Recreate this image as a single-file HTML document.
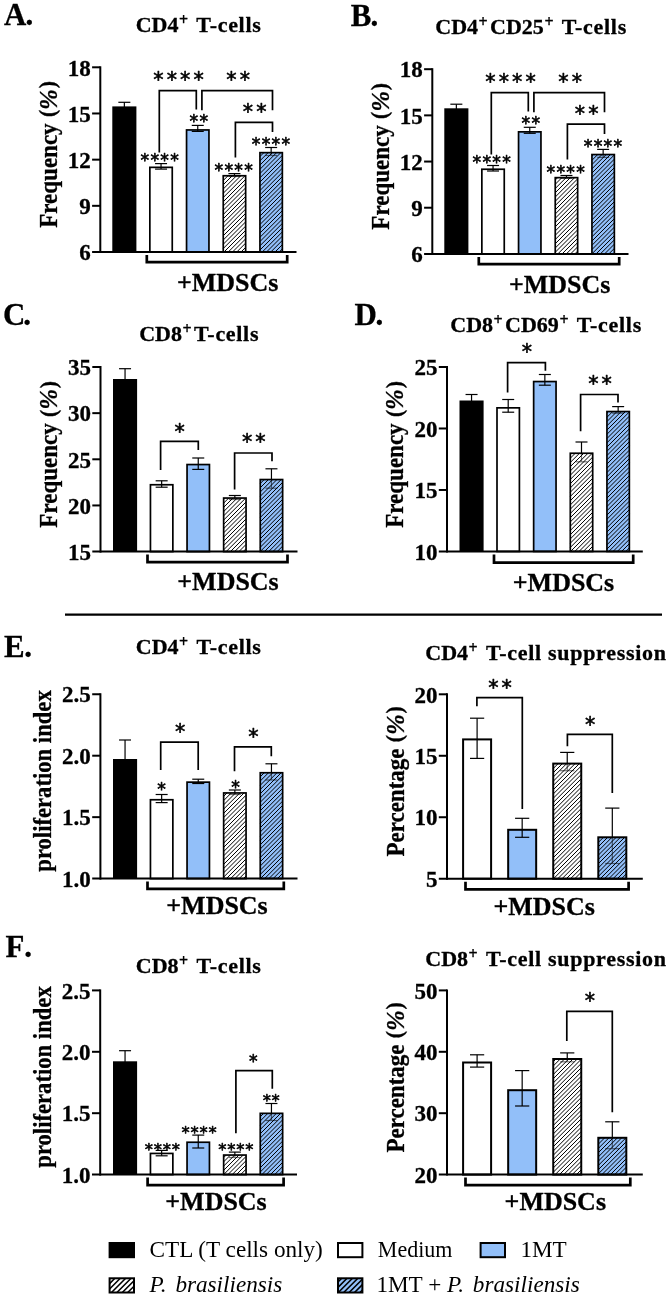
<!DOCTYPE html>
<html lang="en"><head><meta charset="utf-8"><title>Figure</title>
<style>html,body{margin:0;padding:0;background:#fff}svg{display:block;will-change:transform}</style></head><body>
<svg width="668" height="1298" viewBox="0 0 668 1298">
<rect width="668" height="1298" fill="#fff"/>
<g transform="translate(0,0)">
<rect x="112.3" y="106.4" width="24.1" height="145.6" fill="#000"/>
<line x1="124.35" y1="102.3" x2="124.35" y2="107.25" stroke="#000" stroke-width="1.2" stroke-linecap="butt"/>
<line x1="118.35" y1="102.3" x2="130.35" y2="102.3" stroke="#000" stroke-width="1.2" stroke-linecap="butt"/>
<rect x="149.85" y="167.35" width="22.4" height="84.65" fill="#fff" stroke="none"/>
<rect x="149.85" y="167.35" width="22.4" height="84.65" fill="none" stroke="#000" stroke-width="1.7"/>
<line x1="161.05" y1="163.6" x2="161.05" y2="167.35" stroke="#000" stroke-width="1.2" stroke-linecap="butt"/>
<line x1="155.05" y1="163.6" x2="167.05" y2="163.6" stroke="#000" stroke-width="1.2" stroke-linecap="butt"/>
<line x1="161.05" y1="167.35" x2="161.05" y2="169.1" stroke="#000" stroke-width="1.2" stroke-linecap="butt"/>
<line x1="155.05" y1="169.1" x2="167.05" y2="169.1" stroke="#000" stroke-width="1.2" stroke-linecap="butt"/>
<rect x="186.55" y="129.95" width="22.4" height="122.05" fill="#92bff9" stroke="none"/>
<rect x="186.55" y="129.95" width="22.4" height="122.05" fill="none" stroke="#000" stroke-width="1.7"/>
<line x1="197.75" y1="125.4" x2="197.75" y2="129.95" stroke="#000" stroke-width="1.2" stroke-linecap="butt"/>
<line x1="191.75" y1="125.4" x2="203.75" y2="125.4" stroke="#000" stroke-width="1.2" stroke-linecap="butt"/>
<line x1="197.75" y1="129.95" x2="197.75" y2="131.4" stroke="#000" stroke-width="1.2" stroke-linecap="butt"/>
<line x1="191.75" y1="131.4" x2="203.75" y2="131.4" stroke="#000" stroke-width="1.2" stroke-linecap="butt"/>
<rect x="223.25" y="175.75" width="22.4" height="76.25" fill="#fff" stroke="none"/>
<path d="M223.25,176.25L223.75,175.75M223.25,180.5L228,175.75M223.25,184.75L232.25,175.75M223.25,189L236.5,175.75M223.25,193.25L240.75,175.75M223.25,197.5L245,175.75M223.25,201.75L245.65,179.35M223.25,206L245.65,183.6M223.25,210.25L245.65,187.85M223.25,214.5L245.65,192.1M223.25,218.75L245.65,196.35M223.25,223L245.65,200.6M223.25,227.25L245.65,204.85M223.25,231.5L245.65,209.1M223.25,235.75L245.65,213.35M223.25,240L245.65,217.6M223.25,244.25L245.65,221.85M223.25,248.5L245.65,226.1M224,252L245.65,230.35M228.25,252L245.65,234.6M232.5,252L245.65,238.85M236.75,252L245.65,243.1M241,252L245.65,247.35M245.25,252L245.65,251.6" stroke="#000" stroke-width="1" fill="none"/>
<rect x="223.25" y="175.75" width="22.4" height="76.25" fill="none" stroke="#000" stroke-width="1.7"/>
<line x1="234.45" y1="173.6" x2="234.45" y2="175.75" stroke="#000" stroke-width="1.2" stroke-linecap="butt"/>
<line x1="228.45" y1="173.6" x2="240.45" y2="173.6" stroke="#000" stroke-width="1.2" stroke-linecap="butt"/>
<g opacity="0.55">
<line x1="234.45" y1="175.75" x2="234.45" y2="176.5" stroke="#000" stroke-width="1.2" stroke-linecap="butt"/>
<line x1="228.45" y1="176.5" x2="240.45" y2="176.5" stroke="#000" stroke-width="1.2" stroke-linecap="butt"/>
</g>
<rect x="259.95" y="152.65" width="22.4" height="99.35" fill="#92bff9" stroke="none"/>
<path d="M259.95,156.55L263.85,152.65M259.95,160.8L268.1,152.65M259.95,165.05L272.35,152.65M259.95,169.3L276.6,152.65M259.95,173.55L280.85,152.65M259.95,177.8L282.35,155.4M259.95,182.05L282.35,159.65M259.95,186.3L282.35,163.9M259.95,190.55L282.35,168.15M259.95,194.8L282.35,172.4M259.95,199.05L282.35,176.65M259.95,203.3L282.35,180.9M259.95,207.55L282.35,185.15M259.95,211.8L282.35,189.4M259.95,216.05L282.35,193.65M259.95,220.3L282.35,197.9M259.95,224.55L282.35,202.15M259.95,228.8L282.35,206.4M259.95,233.05L282.35,210.65M259.95,237.3L282.35,214.9M259.95,241.55L282.35,219.15M259.95,245.8L282.35,223.4M259.95,250.05L282.35,227.65M262.25,252L282.35,231.9M266.5,252L282.35,236.15M270.75,252L282.35,240.4M275,252L282.35,244.65M279.25,252L282.35,248.9" stroke="#000" stroke-width="1" fill="none"/>
<rect x="259.95" y="152.65" width="22.4" height="99.35" fill="none" stroke="#000" stroke-width="1.7"/>
<line x1="271.15" y1="147.5" x2="271.15" y2="152.65" stroke="#000" stroke-width="1.2" stroke-linecap="butt"/>
<line x1="265.15" y1="147.5" x2="277.15" y2="147.5" stroke="#000" stroke-width="1.2" stroke-linecap="butt"/>
<g opacity="0.55">
<line x1="271.15" y1="152.65" x2="271.15" y2="155.5" stroke="#000" stroke-width="1.2" stroke-linecap="butt"/>
<line x1="265.15" y1="155.5" x2="277.15" y2="155.5" stroke="#000" stroke-width="1.2" stroke-linecap="butt"/>
</g>
<line x1="100.3" y1="66.3" x2="100.3" y2="253" stroke="#000" stroke-width="2" stroke-linecap="butt"/>
<line x1="92.1" y1="252" x2="296.5" y2="252" stroke="#000" stroke-width="2" stroke-linecap="butt"/>
<line x1="92.1" y1="67.3" x2="100.3" y2="67.3" stroke="#000" stroke-width="2" stroke-linecap="butt"/>
<line x1="92.1" y1="113.47" x2="100.3" y2="113.47" stroke="#000" stroke-width="2" stroke-linecap="butt"/>
<line x1="92.1" y1="159.65" x2="100.3" y2="159.65" stroke="#000" stroke-width="2" stroke-linecap="butt"/>
<line x1="92.1" y1="205.82" x2="100.3" y2="205.82" stroke="#000" stroke-width="2" stroke-linecap="butt"/>
<text transform="translate(90.7,75.5)" font-family="'Liberation Serif','Times New Roman',Times,serif" font-size="23" font-weight="bold" font-style="normal" text-anchor="end"  stroke="#000" stroke-width="0.3">18</text>
<text transform="translate(90.7,121.67)" font-family="'Liberation Serif','Times New Roman',Times,serif" font-size="23" font-weight="bold" font-style="normal" text-anchor="end"  stroke="#000" stroke-width="0.3">15</text>
<text transform="translate(90.7,167.85)" font-family="'Liberation Serif','Times New Roman',Times,serif" font-size="23" font-weight="bold" font-style="normal" text-anchor="end"  stroke="#000" stroke-width="0.3">12</text>
<text transform="translate(90.7,214.02)" font-family="'Liberation Serif','Times New Roman',Times,serif" font-size="23" font-weight="bold" font-style="normal" text-anchor="end"  stroke="#000" stroke-width="0.3">9</text>
<text transform="translate(90.7,260.2)" font-family="'Liberation Serif','Times New Roman',Times,serif" font-size="23" font-weight="bold" font-style="normal" text-anchor="end"  stroke="#000" stroke-width="0.3">6</text>
<text transform="translate(56.5,154.4) rotate(-90) scale(0.9430,1)" font-family="'Liberation Serif','Times New Roman',Times,serif" font-size="24.4" font-weight="bold" font-style="normal" text-anchor="middle"  stroke="#000" stroke-width="0.3">Frequency <tspan font-size="23" dx="0.6" dy="-1.2">(</tspan><tspan font-style="italic" font-size="26" dx="0.2" dy="1.2">%</tspan><tspan font-size="23" dx="1.0" dy="-1.2">)</tspan></text>
<text transform="translate(135.7,32.4)" font-family="'Liberation Serif','Times New Roman',Times,serif" font-size="22" font-weight="bold" font-style="normal" text-anchor="start"  stroke="#000" stroke-width="0.3">CD4<tspan dy="-7" dx="0.5" font-size="16">+</tspan><tspan dy="7" dx="2.4" letter-spacing="0.7"> T-cells</tspan></text>
<polyline points="146.8,255 146.8,262.2 287.2,262.2 287.2,255" fill="none" stroke="#000" stroke-width="2.7" stroke-linejoin="miter"/>
<text transform="translate(227.7,290.8) scale(1.0650,1)" font-family="'Liberation Serif','Times New Roman',Times,serif" font-size="24.4" font-weight="bold" font-style="normal" text-anchor="middle"  stroke="#000" stroke-width="0.3">+MDSCs</text>
<polyline points="159.3,152.6 159.3,90.7 196.3,90.7 196.3,109.5" fill="none" stroke="#000" stroke-width="1.7" stroke-linejoin="miter"/>
<polyline points="201.9,110.3 201.9,90.7 272.5,90.7 272.5,110.3" fill="none" stroke="#000" stroke-width="1.7" stroke-linejoin="miter"/>
<polyline points="235.4,157.5 235.4,122.3 272.5,122.3 272.5,132" fill="none" stroke="#000" stroke-width="1.7" stroke-linejoin="miter"/>
<text x="153.25 166.65 180.05 193.45" y="87.31" font-family="'DejaVu Sans','Liberation Sans',sans-serif" font-size="20.6" stroke="#000" stroke-width="0.6" stroke-linejoin="round">****</text>
<text x="226.35 239.75" y="87.31" font-family="'DejaVu Sans','Liberation Sans',sans-serif" font-size="20.6" stroke="#000" stroke-width="0.6" stroke-linejoin="round">**</text>
<text x="242.75 256.15" y="118.61" font-family="'DejaVu Sans','Liberation Sans',sans-serif" font-size="20.6" stroke="#000" stroke-width="0.6" stroke-linejoin="round">**</text>
<text x="140.55 150.45 160.35 170.25" y="165.74" font-family="'DejaVu Sans','Liberation Sans',sans-serif" font-size="17.2" stroke="#000" stroke-width="0.6" stroke-linejoin="round">****</text>
<text x="189.55 199.45" y="127.14" font-family="'DejaVu Sans','Liberation Sans',sans-serif" font-size="17.2" stroke="#000" stroke-width="0.6" stroke-linejoin="round">**</text>
<text x="214.55 224.45 234.35 244.25" y="175.94" font-family="'DejaVu Sans','Liberation Sans',sans-serif" font-size="17.2" stroke="#000" stroke-width="0.6" stroke-linejoin="round">****</text>
<text x="251.75 261.65 271.55 281.45" y="149.74" font-family="'DejaVu Sans','Liberation Sans',sans-serif" font-size="17.2" stroke="#000" stroke-width="0.6" stroke-linejoin="round">****</text>
</g>
<g transform="translate(332,1.9)">
<rect x="112.3" y="106.4" width="24.1" height="145.6" fill="#000"/>
<line x1="124.35" y1="102.3" x2="124.35" y2="107.25" stroke="#000" stroke-width="1.2" stroke-linecap="butt"/>
<line x1="118.35" y1="102.3" x2="130.35" y2="102.3" stroke="#000" stroke-width="1.2" stroke-linecap="butt"/>
<rect x="149.85" y="167.35" width="22.4" height="84.65" fill="#fff" stroke="none"/>
<rect x="149.85" y="167.35" width="22.4" height="84.65" fill="none" stroke="#000" stroke-width="1.7"/>
<line x1="161.05" y1="163.6" x2="161.05" y2="167.35" stroke="#000" stroke-width="1.2" stroke-linecap="butt"/>
<line x1="155.05" y1="163.6" x2="167.05" y2="163.6" stroke="#000" stroke-width="1.2" stroke-linecap="butt"/>
<line x1="161.05" y1="167.35" x2="161.05" y2="169.1" stroke="#000" stroke-width="1.2" stroke-linecap="butt"/>
<line x1="155.05" y1="169.1" x2="167.05" y2="169.1" stroke="#000" stroke-width="1.2" stroke-linecap="butt"/>
<rect x="186.55" y="129.95" width="22.4" height="122.05" fill="#92bff9" stroke="none"/>
<rect x="186.55" y="129.95" width="22.4" height="122.05" fill="none" stroke="#000" stroke-width="1.7"/>
<line x1="197.75" y1="125.4" x2="197.75" y2="129.95" stroke="#000" stroke-width="1.2" stroke-linecap="butt"/>
<line x1="191.75" y1="125.4" x2="203.75" y2="125.4" stroke="#000" stroke-width="1.2" stroke-linecap="butt"/>
<line x1="197.75" y1="129.95" x2="197.75" y2="131.4" stroke="#000" stroke-width="1.2" stroke-linecap="butt"/>
<line x1="191.75" y1="131.4" x2="203.75" y2="131.4" stroke="#000" stroke-width="1.2" stroke-linecap="butt"/>
<rect x="223.25" y="175.75" width="22.4" height="76.25" fill="#fff" stroke="none"/>
<path d="M223.25,178.1L225.6,175.75M223.25,182.35L229.85,175.75M223.25,186.6L234.1,175.75M223.25,190.85L238.35,175.75M223.25,195.1L242.6,175.75M223.25,199.35L245.65,176.95M223.25,203.6L245.65,181.2M223.25,207.85L245.65,185.45M223.25,212.1L245.65,189.7M223.25,216.35L245.65,193.95M223.25,220.6L245.65,198.2M223.25,224.85L245.65,202.45M223.25,229.1L245.65,206.7M223.25,233.35L245.65,210.95M223.25,237.6L245.65,215.2M223.25,241.85L245.65,219.45M223.25,246.1L245.65,223.7M223.25,250.35L245.65,227.95M225.85,252L245.65,232.2M230.1,252L245.65,236.45M234.35,252L245.65,240.7M238.6,252L245.65,244.95M242.85,252L245.65,249.2" stroke="#000" stroke-width="1" fill="none"/>
<rect x="223.25" y="175.75" width="22.4" height="76.25" fill="none" stroke="#000" stroke-width="1.7"/>
<line x1="234.45" y1="173.6" x2="234.45" y2="175.75" stroke="#000" stroke-width="1.2" stroke-linecap="butt"/>
<line x1="228.45" y1="173.6" x2="240.45" y2="173.6" stroke="#000" stroke-width="1.2" stroke-linecap="butt"/>
<g opacity="0.55">
<line x1="234.45" y1="175.75" x2="234.45" y2="176.5" stroke="#000" stroke-width="1.2" stroke-linecap="butt"/>
<line x1="228.45" y1="176.5" x2="240.45" y2="176.5" stroke="#000" stroke-width="1.2" stroke-linecap="butt"/>
</g>
<rect x="259.95" y="152.65" width="22.4" height="99.35" fill="#92bff9" stroke="none"/>
<path d="M259.95,154.15L261.45,152.65M259.95,158.4L265.7,152.65M259.95,162.65L269.95,152.65M259.95,166.9L274.2,152.65M259.95,171.15L278.45,152.65M259.95,175.4L282.35,153M259.95,179.65L282.35,157.25M259.95,183.9L282.35,161.5M259.95,188.15L282.35,165.75M259.95,192.4L282.35,170M259.95,196.65L282.35,174.25M259.95,200.9L282.35,178.5M259.95,205.15L282.35,182.75M259.95,209.4L282.35,187M259.95,213.65L282.35,191.25M259.95,217.9L282.35,195.5M259.95,222.15L282.35,199.75M259.95,226.4L282.35,204M259.95,230.65L282.35,208.25M259.95,234.9L282.35,212.5M259.95,239.15L282.35,216.75M259.95,243.4L282.35,221M259.95,247.65L282.35,225.25M259.95,251.9L282.35,229.5M264.1,252L282.35,233.75M268.35,252L282.35,238M272.6,252L282.35,242.25M276.85,252L282.35,246.5M281.1,252L282.35,250.75" stroke="#000" stroke-width="1" fill="none"/>
<rect x="259.95" y="152.65" width="22.4" height="99.35" fill="none" stroke="#000" stroke-width="1.7"/>
<line x1="271.15" y1="147.5" x2="271.15" y2="152.65" stroke="#000" stroke-width="1.2" stroke-linecap="butt"/>
<line x1="265.15" y1="147.5" x2="277.15" y2="147.5" stroke="#000" stroke-width="1.2" stroke-linecap="butt"/>
<g opacity="0.55">
<line x1="271.15" y1="152.65" x2="271.15" y2="155.5" stroke="#000" stroke-width="1.2" stroke-linecap="butt"/>
<line x1="265.15" y1="155.5" x2="277.15" y2="155.5" stroke="#000" stroke-width="1.2" stroke-linecap="butt"/>
</g>
<line x1="100.3" y1="66.3" x2="100.3" y2="253" stroke="#000" stroke-width="2" stroke-linecap="butt"/>
<line x1="92.1" y1="252" x2="296.5" y2="252" stroke="#000" stroke-width="2" stroke-linecap="butt"/>
<line x1="92.1" y1="67.3" x2="100.3" y2="67.3" stroke="#000" stroke-width="2" stroke-linecap="butt"/>
<line x1="92.1" y1="113.47" x2="100.3" y2="113.47" stroke="#000" stroke-width="2" stroke-linecap="butt"/>
<line x1="92.1" y1="159.65" x2="100.3" y2="159.65" stroke="#000" stroke-width="2" stroke-linecap="butt"/>
<line x1="92.1" y1="205.82" x2="100.3" y2="205.82" stroke="#000" stroke-width="2" stroke-linecap="butt"/>
<text transform="translate(90.7,75.5)" font-family="'Liberation Serif','Times New Roman',Times,serif" font-size="23" font-weight="bold" font-style="normal" text-anchor="end"  stroke="#000" stroke-width="0.3">18</text>
<text transform="translate(90.7,121.67)" font-family="'Liberation Serif','Times New Roman',Times,serif" font-size="23" font-weight="bold" font-style="normal" text-anchor="end"  stroke="#000" stroke-width="0.3">15</text>
<text transform="translate(90.7,167.85)" font-family="'Liberation Serif','Times New Roman',Times,serif" font-size="23" font-weight="bold" font-style="normal" text-anchor="end"  stroke="#000" stroke-width="0.3">12</text>
<text transform="translate(90.7,214.02)" font-family="'Liberation Serif','Times New Roman',Times,serif" font-size="23" font-weight="bold" font-style="normal" text-anchor="end"  stroke="#000" stroke-width="0.3">9</text>
<text transform="translate(90.7,260.2)" font-family="'Liberation Serif','Times New Roman',Times,serif" font-size="23" font-weight="bold" font-style="normal" text-anchor="end"  stroke="#000" stroke-width="0.3">6</text>
<text transform="translate(56.5,154.4) rotate(-90) scale(0.9430,1)" font-family="'Liberation Serif','Times New Roman',Times,serif" font-size="24.4" font-weight="bold" font-style="normal" text-anchor="middle"  stroke="#000" stroke-width="0.3">Frequency <tspan font-size="23" dx="0.6" dy="-1.2">(</tspan><tspan font-style="italic" font-size="26" dx="0.2" dy="1.2">%</tspan><tspan font-size="23" dx="1.0" dy="-1.2">)</tspan></text>
<text transform="translate(103.3,32.4)" font-family="'Liberation Serif','Times New Roman',Times,serif" font-size="22" font-weight="bold" font-style="normal" text-anchor="start"  stroke="#000" stroke-width="0.3">CD4<tspan dy="-7" dx="0.5" font-size="16">+</tspan><tspan dy="7" dx="2.4">CD25</tspan><tspan dy="-7" dx="0.5" font-size="16">+</tspan><tspan dy="7" dx="2.4" letter-spacing="0.7"> T-cells</tspan></text>
<polyline points="146.8,255 146.8,262.2 287.2,262.2 287.2,255" fill="none" stroke="#000" stroke-width="2.7" stroke-linejoin="miter"/>
<text transform="translate(227.7,290.8) scale(1.0650,1)" font-family="'Liberation Serif','Times New Roman',Times,serif" font-size="24.4" font-weight="bold" font-style="normal" text-anchor="middle"  stroke="#000" stroke-width="0.3">+MDSCs</text>
<polyline points="159.3,152.6 159.3,90.7 196.3,90.7 196.3,109.5" fill="none" stroke="#000" stroke-width="1.7" stroke-linejoin="miter"/>
<polyline points="201.9,110.3 201.9,90.7 272.5,90.7 272.5,110.3" fill="none" stroke="#000" stroke-width="1.7" stroke-linejoin="miter"/>
<polyline points="235.4,157.5 235.4,122.3 272.5,122.3 272.5,132" fill="none" stroke="#000" stroke-width="1.7" stroke-linejoin="miter"/>
<text x="153.25 166.65 180.05 193.45" y="87.31" font-family="'DejaVu Sans','Liberation Sans',sans-serif" font-size="20.6" stroke="#000" stroke-width="0.6" stroke-linejoin="round">****</text>
<text x="226.35 239.75" y="87.31" font-family="'DejaVu Sans','Liberation Sans',sans-serif" font-size="20.6" stroke="#000" stroke-width="0.6" stroke-linejoin="round">**</text>
<text x="242.75 256.15" y="118.61" font-family="'DejaVu Sans','Liberation Sans',sans-serif" font-size="20.6" stroke="#000" stroke-width="0.6" stroke-linejoin="round">**</text>
<text x="140.55 150.45 160.35 170.25" y="165.74" font-family="'DejaVu Sans','Liberation Sans',sans-serif" font-size="17.2" stroke="#000" stroke-width="0.6" stroke-linejoin="round">****</text>
<text x="189.55 199.45" y="127.14" font-family="'DejaVu Sans','Liberation Sans',sans-serif" font-size="17.2" stroke="#000" stroke-width="0.6" stroke-linejoin="round">**</text>
<text x="214.55 224.45 234.35 244.25" y="175.94" font-family="'DejaVu Sans','Liberation Sans',sans-serif" font-size="17.2" stroke="#000" stroke-width="0.6" stroke-linejoin="round">****</text>
<text x="251.75 261.65 271.55 281.45" y="149.74" font-family="'DejaVu Sans','Liberation Sans',sans-serif" font-size="17.2" stroke="#000" stroke-width="0.6" stroke-linejoin="round">****</text>
</g>
<g transform="translate(0,0)">
<rect x="113" y="379" width="24.1" height="172.6" fill="#000"/>
<line x1="125.05" y1="368.7" x2="125.05" y2="379.85" stroke="#000" stroke-width="1.2" stroke-linecap="butt"/>
<line x1="119.05" y1="368.7" x2="131.05" y2="368.7" stroke="#000" stroke-width="1.2" stroke-linecap="butt"/>
<rect x="150.45" y="484.75" width="22.4" height="66.85" fill="#fff" stroke="none"/>
<rect x="150.45" y="484.75" width="22.4" height="66.85" fill="none" stroke="#000" stroke-width="1.7"/>
<line x1="161.65" y1="480.8" x2="161.65" y2="484.75" stroke="#000" stroke-width="1.2" stroke-linecap="butt"/>
<line x1="155.65" y1="480.8" x2="167.65" y2="480.8" stroke="#000" stroke-width="1.2" stroke-linecap="butt"/>
<line x1="161.65" y1="484.75" x2="161.65" y2="487.2" stroke="#000" stroke-width="1.2" stroke-linecap="butt"/>
<line x1="155.65" y1="487.2" x2="167.65" y2="487.2" stroke="#000" stroke-width="1.2" stroke-linecap="butt"/>
<rect x="187.05" y="464.55" width="22.4" height="87.05" fill="#92bff9" stroke="none"/>
<rect x="187.05" y="464.55" width="22.4" height="87.05" fill="none" stroke="#000" stroke-width="1.7"/>
<line x1="198.25" y1="458" x2="198.25" y2="464.55" stroke="#000" stroke-width="1.2" stroke-linecap="butt"/>
<line x1="192.25" y1="458" x2="204.25" y2="458" stroke="#000" stroke-width="1.2" stroke-linecap="butt"/>
<line x1="198.25" y1="464.55" x2="198.25" y2="469.4" stroke="#000" stroke-width="1.2" stroke-linecap="butt"/>
<line x1="192.25" y1="469.4" x2="204.25" y2="469.4" stroke="#000" stroke-width="1.2" stroke-linecap="butt"/>
<rect x="223.65" y="498.05" width="22.4" height="53.55" fill="#fff" stroke="none"/>
<path d="M223.65,498.85L224.45,498.05M223.65,503.1L228.7,498.05M223.65,507.35L232.95,498.05M223.65,511.6L237.2,498.05M223.65,515.85L241.45,498.05M223.65,520.1L245.7,498.05M223.65,524.35L246.05,501.95M223.65,528.6L246.05,506.2M223.65,532.85L246.05,510.45M223.65,537.1L246.05,514.7M223.65,541.35L246.05,518.95M223.65,545.6L246.05,523.2M223.65,549.85L246.05,527.45M226.15,551.6L246.05,531.7M230.4,551.6L246.05,535.95M234.65,551.6L246.05,540.2M238.9,551.6L246.05,544.45M243.15,551.6L246.05,548.7" stroke="#000" stroke-width="1" fill="none"/>
<rect x="223.65" y="498.05" width="22.4" height="53.55" fill="none" stroke="#000" stroke-width="1.7"/>
<line x1="234.85" y1="495.5" x2="234.85" y2="498.05" stroke="#000" stroke-width="1.2" stroke-linecap="butt"/>
<line x1="228.85" y1="495.5" x2="240.85" y2="495.5" stroke="#000" stroke-width="1.2" stroke-linecap="butt"/>
<g opacity="0.55">
<line x1="234.85" y1="498.05" x2="234.85" y2="499.5" stroke="#000" stroke-width="1.2" stroke-linecap="butt"/>
<line x1="228.85" y1="499.5" x2="240.85" y2="499.5" stroke="#000" stroke-width="1.2" stroke-linecap="butt"/>
</g>
<rect x="260.25" y="479.55" width="22.4" height="72.05" fill="#92bff9" stroke="none"/>
<path d="M260.25,483.5L264.2,479.55M260.25,487.75L268.45,479.55M260.25,492L272.7,479.55M260.25,496.25L276.95,479.55M260.25,500.5L281.2,479.55M260.25,504.75L282.65,482.35M260.25,509L282.65,486.6M260.25,513.25L282.65,490.85M260.25,517.5L282.65,495.1M260.25,521.75L282.65,499.35M260.25,526L282.65,503.6M260.25,530.25L282.65,507.85M260.25,534.5L282.65,512.1M260.25,538.75L282.65,516.35M260.25,543L282.65,520.6M260.25,547.25L282.65,524.85M260.25,551.5L282.65,529.1M264.4,551.6L282.65,533.35M268.65,551.6L282.65,537.6M272.9,551.6L282.65,541.85M277.15,551.6L282.65,546.1M281.4,551.6L282.65,550.35" stroke="#000" stroke-width="1" fill="none"/>
<rect x="260.25" y="479.55" width="22.4" height="72.05" fill="none" stroke="#000" stroke-width="1.7"/>
<line x1="271.45" y1="468.8" x2="271.45" y2="479.55" stroke="#000" stroke-width="1.2" stroke-linecap="butt"/>
<line x1="265.45" y1="468.8" x2="277.45" y2="468.8" stroke="#000" stroke-width="1.2" stroke-linecap="butt"/>
<g opacity="0.55">
<line x1="271.45" y1="479.55" x2="271.45" y2="488.2" stroke="#000" stroke-width="1.2" stroke-linecap="butt"/>
<line x1="265.45" y1="488.2" x2="277.45" y2="488.2" stroke="#000" stroke-width="1.2" stroke-linecap="butt"/>
</g>
<line x1="100.5" y1="366" x2="100.5" y2="552.6" stroke="#000" stroke-width="2" stroke-linecap="butt"/>
<line x1="92.3" y1="551.6" x2="297.5" y2="551.6" stroke="#000" stroke-width="2" stroke-linecap="butt"/>
<line x1="92.3" y1="367" x2="100.5" y2="367" stroke="#000" stroke-width="2" stroke-linecap="butt"/>
<line x1="92.3" y1="413.15" x2="100.5" y2="413.15" stroke="#000" stroke-width="2" stroke-linecap="butt"/>
<line x1="92.3" y1="459.3" x2="100.5" y2="459.3" stroke="#000" stroke-width="2" stroke-linecap="butt"/>
<line x1="92.3" y1="505.45" x2="100.5" y2="505.45" stroke="#000" stroke-width="2" stroke-linecap="butt"/>
<text transform="translate(90.9,375.2)" font-family="'Liberation Serif','Times New Roman',Times,serif" font-size="23" font-weight="bold" font-style="normal" text-anchor="end"  stroke="#000" stroke-width="0.3">35</text>
<text transform="translate(90.9,421.35)" font-family="'Liberation Serif','Times New Roman',Times,serif" font-size="23" font-weight="bold" font-style="normal" text-anchor="end"  stroke="#000" stroke-width="0.3">30</text>
<text transform="translate(90.9,467.5)" font-family="'Liberation Serif','Times New Roman',Times,serif" font-size="23" font-weight="bold" font-style="normal" text-anchor="end"  stroke="#000" stroke-width="0.3">25</text>
<text transform="translate(90.9,513.65)" font-family="'Liberation Serif','Times New Roman',Times,serif" font-size="23" font-weight="bold" font-style="normal" text-anchor="end"  stroke="#000" stroke-width="0.3">20</text>
<text transform="translate(90.9,559.8)" font-family="'Liberation Serif','Times New Roman',Times,serif" font-size="23" font-weight="bold" font-style="normal" text-anchor="end"  stroke="#000" stroke-width="0.3">15</text>
<text transform="translate(57,454.3) rotate(-90) scale(0.9430,1)" font-family="'Liberation Serif','Times New Roman',Times,serif" font-size="24.4" font-weight="bold" font-style="normal" text-anchor="middle"  stroke="#000" stroke-width="0.3">Frequency <tspan font-size="23" dx="0.6" dy="-1.2">(</tspan><tspan font-style="italic" font-size="26" dx="0.2" dy="1.2">%</tspan><tspan font-size="23" dx="1.0" dy="-1.2">)</tspan></text>
<text transform="translate(139.2,340.9)" font-family="'Liberation Serif','Times New Roman',Times,serif" font-size="22" font-weight="bold" font-style="normal" text-anchor="start"  stroke="#000" stroke-width="0.3">CD8<tspan dy="-7" dx="0.5" font-size="16">+</tspan><tspan dy="7" dx="2.4" letter-spacing="0.7">T-cells</tspan></text>
<polyline points="147.5,554.6 147.5,562.2 287.5,562.2 287.5,554.6" fill="none" stroke="#000" stroke-width="2.7" stroke-linejoin="miter"/>
<text transform="translate(228,589.5) scale(1.0650,1)" font-family="'Liberation Serif','Times New Roman',Times,serif" font-size="24.4" font-weight="bold" font-style="normal" text-anchor="middle"  stroke="#000" stroke-width="0.3">+MDSCs</text>
<polyline points="160.6,470 160.6,441.3 198.3,441.3 198.3,450" fill="none" stroke="#000" stroke-width="1.7" stroke-linejoin="miter"/>
<polyline points="234.6,489.5 234.6,453 272,453 272,461.3" fill="none" stroke="#000" stroke-width="1.7" stroke-linejoin="miter"/>
<text x="174.55" y="438.71" font-family="'DejaVu Sans','Liberation Sans',sans-serif" font-size="20.6" stroke="#000" stroke-width="0.6" stroke-linejoin="round">*</text>
<text x="241.95 255.35" y="449.41" font-family="'DejaVu Sans','Liberation Sans',sans-serif" font-size="20.6" stroke="#000" stroke-width="0.6" stroke-linejoin="round">**</text>
</g>
<g transform="translate(0,0)">
<rect x="459.5" y="400.5" width="24.1" height="150.95" fill="#000"/>
<line x1="471.55" y1="394.5" x2="471.55" y2="401.35" stroke="#000" stroke-width="1.2" stroke-linecap="butt"/>
<line x1="465.55" y1="394.5" x2="477.55" y2="394.5" stroke="#000" stroke-width="1.2" stroke-linecap="butt"/>
<rect x="497" y="407.85" width="22.4" height="143.6" fill="#fff" stroke="none"/>
<rect x="497" y="407.85" width="22.4" height="143.6" fill="none" stroke="#000" stroke-width="1.7"/>
<line x1="508.2" y1="399.5" x2="508.2" y2="407.85" stroke="#000" stroke-width="1.2" stroke-linecap="butt"/>
<line x1="502.2" y1="399.5" x2="514.2" y2="399.5" stroke="#000" stroke-width="1.2" stroke-linecap="butt"/>
<line x1="508.2" y1="407.85" x2="508.2" y2="412.2" stroke="#000" stroke-width="1.2" stroke-linecap="butt"/>
<line x1="502.2" y1="412.2" x2="514.2" y2="412.2" stroke="#000" stroke-width="1.2" stroke-linecap="butt"/>
<rect x="533.65" y="381.55" width="22.4" height="169.9" fill="#92bff9" stroke="none"/>
<rect x="533.65" y="381.55" width="22.4" height="169.9" fill="none" stroke="#000" stroke-width="1.7"/>
<line x1="544.85" y1="374.5" x2="544.85" y2="381.55" stroke="#000" stroke-width="1.2" stroke-linecap="butt"/>
<line x1="538.85" y1="374.5" x2="550.85" y2="374.5" stroke="#000" stroke-width="1.2" stroke-linecap="butt"/>
<line x1="544.85" y1="381.55" x2="544.85" y2="385.2" stroke="#000" stroke-width="1.2" stroke-linecap="butt"/>
<line x1="538.85" y1="385.2" x2="550.85" y2="385.2" stroke="#000" stroke-width="1.2" stroke-linecap="butt"/>
<rect x="570.3" y="453.25" width="22.4" height="98.2" fill="#fff" stroke="none"/>
<path d="M570.3,453.95L571,453.25M570.3,458.2L575.25,453.25M570.3,462.45L579.5,453.25M570.3,466.7L583.75,453.25M570.3,470.95L588,453.25M570.3,475.2L592.25,453.25M570.3,479.45L592.7,457.05M570.3,483.7L592.7,461.3M570.3,487.95L592.7,465.55M570.3,492.2L592.7,469.8M570.3,496.45L592.7,474.05M570.3,500.7L592.7,478.3M570.3,504.95L592.7,482.55M570.3,509.2L592.7,486.8M570.3,513.45L592.7,491.05M570.3,517.7L592.7,495.3M570.3,521.95L592.7,499.55M570.3,526.2L592.7,503.8M570.3,530.45L592.7,508.05M570.3,534.7L592.7,512.3M570.3,538.95L592.7,516.55M570.3,543.2L592.7,520.8M570.3,547.45L592.7,525.05M570.55,551.45L592.7,529.3M574.8,551.45L592.7,533.55M579.05,551.45L592.7,537.8M583.3,551.45L592.7,542.05M587.55,551.45L592.7,546.3M591.8,551.45L592.7,550.55" stroke="#000" stroke-width="1" fill="none"/>
<rect x="570.3" y="453.25" width="22.4" height="98.2" fill="none" stroke="#000" stroke-width="1.7"/>
<line x1="581.5" y1="442" x2="581.5" y2="453.25" stroke="#000" stroke-width="1.2" stroke-linecap="butt"/>
<line x1="575.5" y1="442" x2="587.5" y2="442" stroke="#000" stroke-width="1.2" stroke-linecap="butt"/>
<g opacity="0.55">
<line x1="581.5" y1="453.25" x2="581.5" y2="461.8" stroke="#000" stroke-width="1.2" stroke-linecap="butt"/>
<line x1="575.5" y1="461.8" x2="587.5" y2="461.8" stroke="#000" stroke-width="1.2" stroke-linecap="butt"/>
</g>
<rect x="606.95" y="411.55" width="22.4" height="139.9" fill="#92bff9" stroke="none"/>
<path d="M606.95,413.05L608.45,411.55M606.95,417.3L612.7,411.55M606.95,421.55L616.95,411.55M606.95,425.8L621.2,411.55M606.95,430.05L625.45,411.55M606.95,434.3L629.35,411.9M606.95,438.55L629.35,416.15M606.95,442.8L629.35,420.4M606.95,447.05L629.35,424.65M606.95,451.3L629.35,428.9M606.95,455.55L629.35,433.15M606.95,459.8L629.35,437.4M606.95,464.05L629.35,441.65M606.95,468.3L629.35,445.9M606.95,472.55L629.35,450.15M606.95,476.8L629.35,454.4M606.95,481.05L629.35,458.65M606.95,485.3L629.35,462.9M606.95,489.55L629.35,467.15M606.95,493.8L629.35,471.4M606.95,498.05L629.35,475.65M606.95,502.3L629.35,479.9M606.95,506.55L629.35,484.15M606.95,510.8L629.35,488.4M606.95,515.05L629.35,492.65M606.95,519.3L629.35,496.9M606.95,523.55L629.35,501.15M606.95,527.8L629.35,505.4M606.95,532.05L629.35,509.65M606.95,536.3L629.35,513.9M606.95,540.55L629.35,518.15M606.95,544.8L629.35,522.4M606.95,549.05L629.35,526.65M608.8,551.45L629.35,530.9M613.05,551.45L629.35,535.15M617.3,551.45L629.35,539.4M621.55,551.45L629.35,543.65M625.8,551.45L629.35,547.9" stroke="#000" stroke-width="1" fill="none"/>
<rect x="606.95" y="411.55" width="22.4" height="139.9" fill="none" stroke="#000" stroke-width="1.7"/>
<line x1="618.15" y1="406.6" x2="618.15" y2="411.55" stroke="#000" stroke-width="1.2" stroke-linecap="butt"/>
<line x1="612.15" y1="406.6" x2="624.15" y2="406.6" stroke="#000" stroke-width="1.2" stroke-linecap="butt"/>
<g opacity="0.55">
<line x1="618.15" y1="411.55" x2="618.15" y2="413.2" stroke="#000" stroke-width="1.2" stroke-linecap="butt"/>
<line x1="612.15" y1="413.2" x2="624.15" y2="413.2" stroke="#000" stroke-width="1.2" stroke-linecap="butt"/>
</g>
<line x1="447" y1="366" x2="447" y2="552.45" stroke="#000" stroke-width="2" stroke-linecap="butt"/>
<line x1="438.8" y1="551.45" x2="642.8" y2="551.45" stroke="#000" stroke-width="2" stroke-linecap="butt"/>
<line x1="438.8" y1="367" x2="447" y2="367" stroke="#000" stroke-width="2" stroke-linecap="butt"/>
<line x1="438.8" y1="428.48" x2="447" y2="428.48" stroke="#000" stroke-width="2" stroke-linecap="butt"/>
<line x1="438.8" y1="489.97" x2="447" y2="489.97" stroke="#000" stroke-width="2" stroke-linecap="butt"/>
<text transform="translate(437.4,375.2)" font-family="'Liberation Serif','Times New Roman',Times,serif" font-size="23" font-weight="bold" font-style="normal" text-anchor="end"  stroke="#000" stroke-width="0.3">25</text>
<text transform="translate(437.4,436.68)" font-family="'Liberation Serif','Times New Roman',Times,serif" font-size="23" font-weight="bold" font-style="normal" text-anchor="end"  stroke="#000" stroke-width="0.3">20</text>
<text transform="translate(437.4,498.17)" font-family="'Liberation Serif','Times New Roman',Times,serif" font-size="23" font-weight="bold" font-style="normal" text-anchor="end"  stroke="#000" stroke-width="0.3">15</text>
<text transform="translate(437.4,559.65)" font-family="'Liberation Serif','Times New Roman',Times,serif" font-size="23" font-weight="bold" font-style="normal" text-anchor="end"  stroke="#000" stroke-width="0.3">10</text>
<text transform="translate(403.3,454.4) rotate(-90) scale(0.9430,1)" font-family="'Liberation Serif','Times New Roman',Times,serif" font-size="24.4" font-weight="bold" font-style="normal" text-anchor="middle"  stroke="#000" stroke-width="0.3">Frequency <tspan font-size="23" dx="0.6" dy="-1.2">(</tspan><tspan font-style="italic" font-size="26" dx="0.2" dy="1.2">%</tspan><tspan font-size="23" dx="1.0" dy="-1.2">)</tspan></text>
<text transform="translate(450.3,332)" font-family="'Liberation Serif','Times New Roman',Times,serif" font-size="22" font-weight="bold" font-style="normal" text-anchor="start"  stroke="#000" stroke-width="0.3">CD8<tspan dy="-7" dx="0.5" font-size="16">+</tspan><tspan dy="7" dx="2.4">CD69</tspan><tspan dy="-7" dx="0.5" font-size="16">+</tspan><tspan dy="7" dx="2.4" letter-spacing="0.7"> T-cells</tspan></text>
<polyline points="494,554.45 494,562.6 633.2,562.6 633.2,554.45" fill="none" stroke="#000" stroke-width="2.7" stroke-linejoin="miter"/>
<text transform="translate(563.5,590.9) scale(1.0650,1)" font-family="'Liberation Serif','Times New Roman',Times,serif" font-size="24.4" font-weight="bold" font-style="normal" text-anchor="middle"  stroke="#000" stroke-width="0.3">+MDSCs</text>
<polyline points="507.6,392.5 507.6,362.7 545.4,362.7 545.4,370.8" fill="none" stroke="#000" stroke-width="1.7" stroke-linejoin="miter"/>
<polyline points="580.6,431.2 580.6,394.5 618,394.5 618,402.5" fill="none" stroke="#000" stroke-width="1.7" stroke-linejoin="miter"/>
<text x="521.85" y="359.01" font-family="'DejaVu Sans','Liberation Sans',sans-serif" font-size="20.6" stroke="#000" stroke-width="0.6" stroke-linejoin="round">*</text>
<text x="588.15 601.55" y="390.51" font-family="'DejaVu Sans','Liberation Sans',sans-serif" font-size="20.6" stroke="#000" stroke-width="0.6" stroke-linejoin="round">**</text>
</g>
<line x1="65" y1="614.6" x2="662" y2="614.6" stroke="#000" stroke-width="2.3" stroke-linecap="butt"/>
<g transform="translate(0,0)">
<rect x="113" y="759" width="24.1" height="119.6" fill="#000"/>
<line x1="125.05" y1="740" x2="125.05" y2="759.85" stroke="#000" stroke-width="1.2" stroke-linecap="butt"/>
<line x1="119.05" y1="740" x2="131.05" y2="740" stroke="#000" stroke-width="1.2" stroke-linecap="butt"/>
<rect x="150.45" y="799.75" width="22.4" height="78.85" fill="#fff" stroke="none"/>
<rect x="150.45" y="799.75" width="22.4" height="78.85" fill="none" stroke="#000" stroke-width="1.7"/>
<line x1="161.65" y1="794.5" x2="161.65" y2="799.75" stroke="#000" stroke-width="1.2" stroke-linecap="butt"/>
<line x1="155.65" y1="794.5" x2="167.65" y2="794.5" stroke="#000" stroke-width="1.2" stroke-linecap="butt"/>
<line x1="161.65" y1="799.75" x2="161.65" y2="802.6" stroke="#000" stroke-width="1.2" stroke-linecap="butt"/>
<line x1="155.65" y1="802.6" x2="167.65" y2="802.6" stroke="#000" stroke-width="1.2" stroke-linecap="butt"/>
<rect x="187.05" y="782.15" width="22.4" height="96.45" fill="#92bff9" stroke="none"/>
<rect x="187.05" y="782.15" width="22.4" height="96.45" fill="none" stroke="#000" stroke-width="1.7"/>
<line x1="198.25" y1="779.2" x2="198.25" y2="782.15" stroke="#000" stroke-width="1.2" stroke-linecap="butt"/>
<line x1="192.25" y1="779.2" x2="204.25" y2="779.2" stroke="#000" stroke-width="1.2" stroke-linecap="butt"/>
<line x1="198.25" y1="782.15" x2="198.25" y2="783.5" stroke="#000" stroke-width="1.2" stroke-linecap="butt"/>
<line x1="192.25" y1="783.5" x2="204.25" y2="783.5" stroke="#000" stroke-width="1.2" stroke-linecap="butt"/>
<rect x="223.65" y="792.95" width="22.4" height="85.65" fill="#fff" stroke="none"/>
<path d="M223.65,796.35L227.05,792.95M223.65,800.6L231.3,792.95M223.65,804.85L235.55,792.95M223.65,809.1L239.8,792.95M223.65,813.35L244.05,792.95M223.65,817.6L246.05,795.2M223.65,821.85L246.05,799.45M223.65,826.1L246.05,803.7M223.65,830.35L246.05,807.95M223.65,834.6L246.05,812.2M223.65,838.85L246.05,816.45M223.65,843.1L246.05,820.7M223.65,847.35L246.05,824.95M223.65,851.6L246.05,829.2M223.65,855.85L246.05,833.45M223.65,860.1L246.05,837.7M223.65,864.35L246.05,841.95M223.65,868.6L246.05,846.2M223.65,872.85L246.05,850.45M223.65,877.1L246.05,854.7M226.4,878.6L246.05,858.95M230.65,878.6L246.05,863.2M234.9,878.6L246.05,867.45M239.15,878.6L246.05,871.7M243.4,878.6L246.05,875.95" stroke="#000" stroke-width="1" fill="none"/>
<rect x="223.65" y="792.95" width="22.4" height="85.65" fill="none" stroke="#000" stroke-width="1.7"/>
<line x1="234.85" y1="790" x2="234.85" y2="792.95" stroke="#000" stroke-width="1.2" stroke-linecap="butt"/>
<line x1="228.85" y1="790" x2="240.85" y2="790" stroke="#000" stroke-width="1.2" stroke-linecap="butt"/>
<g opacity="0.55">
<line x1="234.85" y1="792.95" x2="234.85" y2="794.5" stroke="#000" stroke-width="1.2" stroke-linecap="butt"/>
<line x1="228.85" y1="794.5" x2="240.85" y2="794.5" stroke="#000" stroke-width="1.2" stroke-linecap="butt"/>
</g>
<rect x="260.25" y="772.75" width="22.4" height="105.85" fill="#92bff9" stroke="none"/>
<path d="M260.25,776.75L264.25,772.75M260.25,781L268.5,772.75M260.25,785.25L272.75,772.75M260.25,789.5L277,772.75M260.25,793.75L281.25,772.75M260.25,798L282.65,775.6M260.25,802.25L282.65,779.85M260.25,806.5L282.65,784.1M260.25,810.75L282.65,788.35M260.25,815L282.65,792.6M260.25,819.25L282.65,796.85M260.25,823.5L282.65,801.1M260.25,827.75L282.65,805.35M260.25,832L282.65,809.6M260.25,836.25L282.65,813.85M260.25,840.5L282.65,818.1M260.25,844.75L282.65,822.35M260.25,849L282.65,826.6M260.25,853.25L282.65,830.85M260.25,857.5L282.65,835.1M260.25,861.75L282.65,839.35M260.25,866L282.65,843.6M260.25,870.25L282.65,847.85M260.25,874.5L282.65,852.1M260.4,878.6L282.65,856.35M264.65,878.6L282.65,860.6M268.9,878.6L282.65,864.85M273.15,878.6L282.65,869.1M277.4,878.6L282.65,873.35M281.65,878.6L282.65,877.6" stroke="#000" stroke-width="1" fill="none"/>
<rect x="260.25" y="772.75" width="22.4" height="105.85" fill="none" stroke="#000" stroke-width="1.7"/>
<line x1="271.45" y1="763.8" x2="271.45" y2="772.75" stroke="#000" stroke-width="1.2" stroke-linecap="butt"/>
<line x1="265.45" y1="763.8" x2="277.45" y2="763.8" stroke="#000" stroke-width="1.2" stroke-linecap="butt"/>
<g opacity="0.55">
<line x1="271.45" y1="772.75" x2="271.45" y2="780" stroke="#000" stroke-width="1.2" stroke-linecap="butt"/>
<line x1="265.45" y1="780" x2="277.45" y2="780" stroke="#000" stroke-width="1.2" stroke-linecap="butt"/>
</g>
<line x1="100.4" y1="693.25" x2="100.4" y2="879.6" stroke="#000" stroke-width="2" stroke-linecap="butt"/>
<line x1="92.2" y1="878.6" x2="297.5" y2="878.6" stroke="#000" stroke-width="2" stroke-linecap="butt"/>
<line x1="92.2" y1="694.25" x2="100.4" y2="694.25" stroke="#000" stroke-width="2" stroke-linecap="butt"/>
<line x1="92.2" y1="755.7" x2="100.4" y2="755.7" stroke="#000" stroke-width="2" stroke-linecap="butt"/>
<line x1="92.2" y1="817.15" x2="100.4" y2="817.15" stroke="#000" stroke-width="2" stroke-linecap="butt"/>
<text transform="translate(90.8,702.45)" font-family="'Liberation Serif','Times New Roman',Times,serif" font-size="23" font-weight="bold" font-style="normal" text-anchor="end"  stroke="#000" stroke-width="0.3">2.5</text>
<text transform="translate(90.8,763.9)" font-family="'Liberation Serif','Times New Roman',Times,serif" font-size="23" font-weight="bold" font-style="normal" text-anchor="end"  stroke="#000" stroke-width="0.3">2.0</text>
<text transform="translate(90.8,825.35)" font-family="'Liberation Serif','Times New Roman',Times,serif" font-size="23" font-weight="bold" font-style="normal" text-anchor="end"  stroke="#000" stroke-width="0.3">1.5</text>
<text transform="translate(90.8,886.8)" font-family="'Liberation Serif','Times New Roman',Times,serif" font-size="23" font-weight="bold" font-style="normal" text-anchor="end"  stroke="#000" stroke-width="0.3">1.0</text>
<text transform="translate(50.6,781) rotate(-90) scale(0.9290,1)" font-family="'Liberation Serif','Times New Roman',Times,serif" font-size="24.4" font-weight="bold" font-style="normal" text-anchor="middle"  stroke="#000" stroke-width="0.3">proliferation index</text>
<text transform="translate(135.8,653.8)" font-family="'Liberation Serif','Times New Roman',Times,serif" font-size="22" font-weight="bold" font-style="normal" text-anchor="start"  stroke="#000" stroke-width="0.3">CD4<tspan dy="-7" dx="0.5" font-size="16">+</tspan><tspan dy="7" dx="2.4" letter-spacing="0.7"> T-cells</tspan></text>
<polyline points="147.5,881.6 147.5,888.8 283.8,888.8 283.8,881.6" fill="none" stroke="#000" stroke-width="2.7" stroke-linejoin="miter"/>
<text transform="translate(217,914.2) scale(1.0650,1)" font-family="'Liberation Serif','Times New Roman',Times,serif" font-size="24.4" font-weight="bold" font-style="normal" text-anchor="middle"  stroke="#000" stroke-width="0.3">+MDSCs</text>
<polyline points="160.7,770 160.7,742.2 198.2,742.2 198.2,770" fill="none" stroke="#000" stroke-width="1.7" stroke-linejoin="miter"/>
<polyline points="234.5,771.3 234.5,746.8 271.3,746.8 271.3,756.3" fill="none" stroke="#000" stroke-width="1.7" stroke-linejoin="miter"/>
<text x="175.05" y="738.71" font-family="'DejaVu Sans','Liberation Sans',sans-serif" font-size="20.6" stroke="#000" stroke-width="0.6" stroke-linejoin="round">*</text>
<text x="248.15" y="743.51" font-family="'DejaVu Sans','Liberation Sans',sans-serif" font-size="20.6" stroke="#000" stroke-width="0.6" stroke-linejoin="round">*</text>
<text x="157.3" y="795.34" font-family="'DejaVu Sans','Liberation Sans',sans-serif" font-size="17.2" stroke="#000" stroke-width="0.6" stroke-linejoin="round">*</text>
<text x="231.3" y="792.74" font-family="'DejaVu Sans','Liberation Sans',sans-serif" font-size="17.2" stroke="#000" stroke-width="0.6" stroke-linejoin="round">*</text>
</g>
<g transform="translate(0,0)">
<rect x="463.1" y="739.4" width="28" height="139.3" fill="#fff" stroke="none"/>
<rect x="463.1" y="739.4" width="28" height="139.3" fill="none" stroke="#000" stroke-width="2"/>
<line x1="477.1" y1="718.2" x2="477.1" y2="739.4" stroke="#000" stroke-width="1.2" stroke-linecap="butt"/>
<line x1="470" y1="718.2" x2="484.2" y2="718.2" stroke="#000" stroke-width="1.2" stroke-linecap="butt"/>
<line x1="477.1" y1="739.4" x2="477.1" y2="758.4" stroke="#000" stroke-width="1.2" stroke-linecap="butt"/>
<line x1="470" y1="758.4" x2="484.2" y2="758.4" stroke="#000" stroke-width="1.2" stroke-linecap="butt"/>
<rect x="508.17" y="829.8" width="28" height="48.9" fill="#92bff9" stroke="none"/>
<rect x="508.17" y="829.8" width="28" height="48.9" fill="none" stroke="#000" stroke-width="2"/>
<line x1="522.17" y1="818.3" x2="522.17" y2="829.8" stroke="#000" stroke-width="1.2" stroke-linecap="butt"/>
<line x1="515.07" y1="818.3" x2="529.27" y2="818.3" stroke="#000" stroke-width="1.2" stroke-linecap="butt"/>
<line x1="522.17" y1="829.8" x2="522.17" y2="837.3" stroke="#000" stroke-width="1.2" stroke-linecap="butt"/>
<line x1="515.07" y1="837.3" x2="529.27" y2="837.3" stroke="#000" stroke-width="1.2" stroke-linecap="butt"/>
<rect x="553.24" y="763.6" width="28" height="115.1" fill="#fff" stroke="none"/>
<path d="M553.24,764.26L553.9,763.6M553.24,768.51L558.15,763.6M553.24,772.76L562.4,763.6M553.24,777.01L566.65,763.6M553.24,781.26L570.9,763.6M553.24,785.51L575.15,763.6M553.24,789.76L579.4,763.6M553.24,794.01L581.24,766.01M553.24,798.26L581.24,770.26M553.24,802.51L581.24,774.51M553.24,806.76L581.24,778.76M553.24,811.01L581.24,783.01M553.24,815.26L581.24,787.26M553.24,819.51L581.24,791.51M553.24,823.76L581.24,795.76M553.24,828.01L581.24,800.01M553.24,832.26L581.24,804.26M553.24,836.51L581.24,808.51M553.24,840.76L581.24,812.76M553.24,845.01L581.24,817.01M553.24,849.26L581.24,821.26M553.24,853.51L581.24,825.51M553.24,857.76L581.24,829.76M553.24,862.01L581.24,834.01M553.24,866.26L581.24,838.26M553.24,870.51L581.24,842.51M553.24,874.76L581.24,846.76M553.55,878.7L581.24,851.01M557.8,878.7L581.24,855.26M562.05,878.7L581.24,859.51M566.3,878.7L581.24,863.76M570.55,878.7L581.24,868.01M574.8,878.7L581.24,872.26M579.05,878.7L581.24,876.51" stroke="#000" stroke-width="1" fill="none"/>
<rect x="553.24" y="763.6" width="28" height="115.1" fill="none" stroke="#000" stroke-width="2"/>
<line x1="567.24" y1="752.4" x2="567.24" y2="763.6" stroke="#000" stroke-width="1.2" stroke-linecap="butt"/>
<line x1="560.14" y1="752.4" x2="574.34" y2="752.4" stroke="#000" stroke-width="1.2" stroke-linecap="butt"/>
<g opacity="0.55">
<line x1="567.24" y1="763.6" x2="567.24" y2="770.7" stroke="#000" stroke-width="1.2" stroke-linecap="butt"/>
<line x1="560.14" y1="770.7" x2="574.34" y2="770.7" stroke="#000" stroke-width="1.2" stroke-linecap="butt"/>
</g>
<rect x="598.31" y="837.3" width="28" height="41.4" fill="#92bff9" stroke="none"/>
<path d="M598.31,838.19L599.2,837.3M598.31,842.44L603.45,837.3M598.31,846.69L607.7,837.3M598.31,850.94L611.95,837.3M598.31,855.19L616.2,837.3M598.31,859.44L620.45,837.3M598.31,863.69L624.7,837.3M598.31,867.94L626.31,839.94M598.31,872.19L626.31,844.19M598.31,876.44L626.31,848.44M600.3,878.7L626.31,852.69M604.55,878.7L626.31,856.94M608.8,878.7L626.31,861.19M613.05,878.7L626.31,865.44M617.3,878.7L626.31,869.69M621.55,878.7L626.31,873.94M625.8,878.7L626.31,878.19" stroke="#000" stroke-width="1" fill="none"/>
<rect x="598.31" y="837.3" width="28" height="41.4" fill="none" stroke="#000" stroke-width="2"/>
<line x1="612.31" y1="808.1" x2="612.31" y2="837.3" stroke="#000" stroke-width="1.2" stroke-linecap="butt"/>
<line x1="605.21" y1="808.1" x2="619.41" y2="808.1" stroke="#000" stroke-width="1.2" stroke-linecap="butt"/>
<g opacity="0.55">
<line x1="612.31" y1="837.3" x2="612.31" y2="863.5" stroke="#000" stroke-width="1.2" stroke-linecap="butt"/>
<line x1="605.21" y1="863.5" x2="619.41" y2="863.5" stroke="#000" stroke-width="1.2" stroke-linecap="butt"/>
</g>
<line x1="447" y1="693.3" x2="447" y2="879.7" stroke="#000" stroke-width="2" stroke-linecap="butt"/>
<line x1="438.8" y1="878.7" x2="642.8" y2="878.7" stroke="#000" stroke-width="2" stroke-linecap="butt"/>
<line x1="438.8" y1="694.3" x2="447" y2="694.3" stroke="#000" stroke-width="2" stroke-linecap="butt"/>
<line x1="438.8" y1="755.77" x2="447" y2="755.77" stroke="#000" stroke-width="2" stroke-linecap="butt"/>
<line x1="438.8" y1="817.23" x2="447" y2="817.23" stroke="#000" stroke-width="2" stroke-linecap="butt"/>
<text transform="translate(437.4,702.5)" font-family="'Liberation Serif','Times New Roman',Times,serif" font-size="23" font-weight="bold" font-style="normal" text-anchor="end"  stroke="#000" stroke-width="0.3">20</text>
<text transform="translate(437.4,763.97)" font-family="'Liberation Serif','Times New Roman',Times,serif" font-size="23" font-weight="bold" font-style="normal" text-anchor="end"  stroke="#000" stroke-width="0.3">15</text>
<text transform="translate(437.4,825.43)" font-family="'Liberation Serif','Times New Roman',Times,serif" font-size="23" font-weight="bold" font-style="normal" text-anchor="end"  stroke="#000" stroke-width="0.3">10</text>
<text transform="translate(437.4,886.9)" font-family="'Liberation Serif','Times New Roman',Times,serif" font-size="23" font-weight="bold" font-style="normal" text-anchor="end"  stroke="#000" stroke-width="0.3">5</text>
<text transform="translate(403.5,781.4) rotate(-90) scale(0.9430,1)" font-family="'Liberation Serif','Times New Roman',Times,serif" font-size="24.4" font-weight="bold" font-style="normal" text-anchor="middle"  stroke="#000" stroke-width="0.3">Percentage <tspan font-size="23" dx="0.6" dy="-1.2">(</tspan><tspan font-style="italic" font-size="26" dx="0.2" dy="1.2">%</tspan><tspan font-size="23" dx="1.0" dy="-1.2">)</tspan></text>
<text transform="translate(425.3,659.5)" font-family="'Liberation Serif','Times New Roman',Times,serif" font-size="22" font-weight="bold" font-style="normal" text-anchor="start"  stroke="#000" stroke-width="0.3">CD4<tspan dy="-7" dx="0.5" font-size="16">+</tspan><tspan dy="7" dx="2.4" letter-spacing="0.7"> T-cell suppression</tspan></text>
<polyline points="465.5,881.7 465.5,889.4 628.6,889.4 628.6,881.7" fill="none" stroke="#000" stroke-width="2.7" stroke-linejoin="miter"/>
<text transform="translate(544.2,915) scale(1.0650,1)" font-family="'Liberation Serif','Times New Roman',Times,serif" font-size="24.4" font-weight="bold" font-style="normal" text-anchor="middle"  stroke="#000" stroke-width="0.3">+MDSCs</text>
<polyline points="476.9,706.3 476.9,697.6 522.3,697.6 522.3,809" fill="none" stroke="#000" stroke-width="1.7" stroke-linejoin="miter"/>
<polyline points="567.4,746.3 567.4,734.4 612.3,734.4 612.3,793" fill="none" stroke="#000" stroke-width="1.7" stroke-linejoin="miter"/>
<text x="488.15 501.55" y="695.11" font-family="'DejaVu Sans','Liberation Sans',sans-serif" font-size="20.6" stroke="#000" stroke-width="0.6" stroke-linejoin="round">**</text>
<text x="584.95" y="732.01" font-family="'DejaVu Sans','Liberation Sans',sans-serif" font-size="20.6" stroke="#000" stroke-width="0.6" stroke-linejoin="round">*</text>
</g>
<g transform="translate(0,0)">
<rect x="113" y="1061.3" width="24.1" height="113.3" fill="#000"/>
<line x1="125.05" y1="1050.7" x2="125.05" y2="1062.15" stroke="#000" stroke-width="1.2" stroke-linecap="butt"/>
<line x1="119.05" y1="1050.7" x2="131.05" y2="1050.7" stroke="#000" stroke-width="1.2" stroke-linecap="butt"/>
<rect x="150.45" y="1153.45" width="22.4" height="21.15" fill="#fff" stroke="none"/>
<rect x="150.45" y="1153.45" width="22.4" height="21.15" fill="none" stroke="#000" stroke-width="1.7"/>
<line x1="161.65" y1="1150.4" x2="161.65" y2="1153.45" stroke="#000" stroke-width="1.2" stroke-linecap="butt"/>
<line x1="155.65" y1="1150.4" x2="167.65" y2="1150.4" stroke="#000" stroke-width="1.2" stroke-linecap="butt"/>
<line x1="161.65" y1="1153.45" x2="161.65" y2="1155.8" stroke="#000" stroke-width="1.2" stroke-linecap="butt"/>
<line x1="155.65" y1="1155.8" x2="167.65" y2="1155.8" stroke="#000" stroke-width="1.2" stroke-linecap="butt"/>
<rect x="187.05" y="1142.25" width="22.4" height="32.35" fill="#92bff9" stroke="none"/>
<rect x="187.05" y="1142.25" width="22.4" height="32.35" fill="none" stroke="#000" stroke-width="1.7"/>
<line x1="198.25" y1="1135.1" x2="198.25" y2="1142.25" stroke="#000" stroke-width="1.2" stroke-linecap="butt"/>
<line x1="192.25" y1="1135.1" x2="204.25" y2="1135.1" stroke="#000" stroke-width="1.2" stroke-linecap="butt"/>
<line x1="198.25" y1="1142.25" x2="198.25" y2="1148" stroke="#000" stroke-width="1.2" stroke-linecap="butt"/>
<line x1="192.25" y1="1148" x2="204.25" y2="1148" stroke="#000" stroke-width="1.2" stroke-linecap="butt"/>
<rect x="223.65" y="1155.05" width="22.4" height="19.55" fill="#fff" stroke="none"/>
<path d="M223.65,1157.6L226.2,1155.05M223.65,1161.85L230.45,1155.05M223.65,1166.1L234.7,1155.05M223.65,1170.35L238.95,1155.05M223.65,1174.6L243.2,1155.05M227.9,1174.6L246.05,1156.45M232.15,1174.6L246.05,1160.7M236.4,1174.6L246.05,1164.95M240.65,1174.6L246.05,1169.2M244.9,1174.6L246.05,1173.45" stroke="#000" stroke-width="1" fill="none"/>
<rect x="223.65" y="1155.05" width="22.4" height="19.55" fill="none" stroke="#000" stroke-width="1.7"/>
<line x1="234.85" y1="1152.1" x2="234.85" y2="1155.05" stroke="#000" stroke-width="1.2" stroke-linecap="butt"/>
<line x1="228.85" y1="1152.1" x2="240.85" y2="1152.1" stroke="#000" stroke-width="1.2" stroke-linecap="butt"/>
<g opacity="0.55">
<line x1="234.85" y1="1155.05" x2="234.85" y2="1157.5" stroke="#000" stroke-width="1.2" stroke-linecap="butt"/>
<line x1="228.85" y1="1157.5" x2="240.85" y2="1157.5" stroke="#000" stroke-width="1.2" stroke-linecap="butt"/>
</g>
<rect x="260.25" y="1113.35" width="22.4" height="61.25" fill="#92bff9" stroke="none"/>
<path d="M260.25,1116.75L263.65,1113.35M260.25,1121L267.9,1113.35M260.25,1125.25L272.15,1113.35M260.25,1129.5L276.4,1113.35M260.25,1133.75L280.65,1113.35M260.25,1138L282.65,1115.6M260.25,1142.25L282.65,1119.85M260.25,1146.5L282.65,1124.1M260.25,1150.75L282.65,1128.35M260.25,1155L282.65,1132.6M260.25,1159.25L282.65,1136.85M260.25,1163.5L282.65,1141.1M260.25,1167.75L282.65,1145.35M260.25,1172L282.65,1149.6M261.9,1174.6L282.65,1153.85M266.15,1174.6L282.65,1158.1M270.4,1174.6L282.65,1162.35M274.65,1174.6L282.65,1166.6M278.9,1174.6L282.65,1170.85" stroke="#000" stroke-width="1" fill="none"/>
<rect x="260.25" y="1113.35" width="22.4" height="61.25" fill="none" stroke="#000" stroke-width="1.7"/>
<line x1="271.45" y1="1103.5" x2="271.45" y2="1113.35" stroke="#000" stroke-width="1.2" stroke-linecap="butt"/>
<line x1="265.45" y1="1103.5" x2="277.45" y2="1103.5" stroke="#000" stroke-width="1.2" stroke-linecap="butt"/>
<g opacity="0.55">
<line x1="271.45" y1="1113.35" x2="271.45" y2="1120.5" stroke="#000" stroke-width="1.2" stroke-linecap="butt"/>
<line x1="265.45" y1="1120.5" x2="277.45" y2="1120.5" stroke="#000" stroke-width="1.2" stroke-linecap="butt"/>
</g>
<line x1="100.2" y1="989.4" x2="100.2" y2="1175.6" stroke="#000" stroke-width="2" stroke-linecap="butt"/>
<line x1="92" y1="1174.6" x2="297" y2="1174.6" stroke="#000" stroke-width="2" stroke-linecap="butt"/>
<line x1="92" y1="990.4" x2="100.2" y2="990.4" stroke="#000" stroke-width="2" stroke-linecap="butt"/>
<line x1="92" y1="1051.8" x2="100.2" y2="1051.8" stroke="#000" stroke-width="2" stroke-linecap="butt"/>
<line x1="92" y1="1113.2" x2="100.2" y2="1113.2" stroke="#000" stroke-width="2" stroke-linecap="butt"/>
<text transform="translate(90.6,998.6)" font-family="'Liberation Serif','Times New Roman',Times,serif" font-size="23" font-weight="bold" font-style="normal" text-anchor="end"  stroke="#000" stroke-width="0.3">2.5</text>
<text transform="translate(90.6,1060)" font-family="'Liberation Serif','Times New Roman',Times,serif" font-size="23" font-weight="bold" font-style="normal" text-anchor="end"  stroke="#000" stroke-width="0.3">2.0</text>
<text transform="translate(90.6,1121.4)" font-family="'Liberation Serif','Times New Roman',Times,serif" font-size="23" font-weight="bold" font-style="normal" text-anchor="end"  stroke="#000" stroke-width="0.3">1.5</text>
<text transform="translate(90.6,1182.8)" font-family="'Liberation Serif','Times New Roman',Times,serif" font-size="23" font-weight="bold" font-style="normal" text-anchor="end"  stroke="#000" stroke-width="0.3">1.0</text>
<text transform="translate(50.6,1077) rotate(-90) scale(0.9290,1)" font-family="'Liberation Serif','Times New Roman',Times,serif" font-size="24.4" font-weight="bold" font-style="normal" text-anchor="middle"  stroke="#000" stroke-width="0.3">proliferation index</text>
<text transform="translate(135.8,972.5)" font-family="'Liberation Serif','Times New Roman',Times,serif" font-size="22" font-weight="bold" font-style="normal" text-anchor="start"  stroke="#000" stroke-width="0.3">CD8<tspan dy="-7" dx="0.5" font-size="16">+</tspan><tspan dy="7" dx="2.4" letter-spacing="0.7"> T-cells</tspan></text>
<polyline points="147.6,1177.6 147.6,1185.2 283.6,1185.2 283.6,1177.6" fill="none" stroke="#000" stroke-width="2.7" stroke-linejoin="miter"/>
<text transform="translate(216,1209.9) scale(1.0650,1)" font-family="'Liberation Serif','Times New Roman',Times,serif" font-size="24.4" font-weight="bold" font-style="normal" text-anchor="middle"  stroke="#000" stroke-width="0.3">+MDSCs</text>
<polyline points="235.9,1133.2 235.9,1070.6 272.3,1070.6 272.3,1088.8" fill="none" stroke="#000" stroke-width="1.7" stroke-linejoin="miter"/>
<text x="249.1" y="1066.54" font-family="'DejaVu Sans','Liberation Sans',sans-serif" font-size="17.2" stroke="#000" stroke-width="0.6" stroke-linejoin="round">*</text>
<text x="144.7 153.7 162.7 171.7" y="1154.93" font-family="'DejaVu Sans','Liberation Sans',sans-serif" font-size="16.4" stroke="#000" stroke-width="0.6" stroke-linejoin="round">****</text>
<text x="181.4 190.4 199.4 208.4" y="1137.83" font-family="'DejaVu Sans','Liberation Sans',sans-serif" font-size="16.4" stroke="#000" stroke-width="0.6" stroke-linejoin="round">****</text>
<text x="218.2 227.2 236.2 245.2" y="1155.33" font-family="'DejaVu Sans','Liberation Sans',sans-serif" font-size="16.4" stroke="#000" stroke-width="0.6" stroke-linejoin="round">****</text>
<text x="262.7 271.5" y="1105.73" font-family="'DejaVu Sans','Liberation Sans',sans-serif" font-size="16.4" stroke="#000" stroke-width="0.6" stroke-linejoin="round">**</text>
</g>
<g transform="translate(0,0)">
<rect x="463.1" y="1062.5" width="28" height="112.1" fill="#fff" stroke="none"/>
<rect x="463.1" y="1062.5" width="28" height="112.1" fill="none" stroke="#000" stroke-width="2"/>
<line x1="477.1" y1="1054.8" x2="477.1" y2="1062.5" stroke="#000" stroke-width="1.2" stroke-linecap="butt"/>
<line x1="470" y1="1054.8" x2="484.2" y2="1054.8" stroke="#000" stroke-width="1.2" stroke-linecap="butt"/>
<line x1="477.1" y1="1062.5" x2="477.1" y2="1067.1" stroke="#000" stroke-width="1.2" stroke-linecap="butt"/>
<line x1="470" y1="1067.1" x2="484.2" y2="1067.1" stroke="#000" stroke-width="1.2" stroke-linecap="butt"/>
<rect x="508.17" y="1090.2" width="28" height="84.4" fill="#92bff9" stroke="none"/>
<rect x="508.17" y="1090.2" width="28" height="84.4" fill="none" stroke="#000" stroke-width="2"/>
<line x1="522.17" y1="1070.6" x2="522.17" y2="1090.2" stroke="#000" stroke-width="1.2" stroke-linecap="butt"/>
<line x1="515.07" y1="1070.6" x2="529.27" y2="1070.6" stroke="#000" stroke-width="1.2" stroke-linecap="butt"/>
<line x1="522.17" y1="1090.2" x2="522.17" y2="1106" stroke="#000" stroke-width="1.2" stroke-linecap="butt"/>
<line x1="515.07" y1="1106" x2="529.27" y2="1106" stroke="#000" stroke-width="1.2" stroke-linecap="butt"/>
<rect x="553.24" y="1059" width="28" height="115.6" fill="#fff" stroke="none"/>
<path d="M553.24,1061.76L556,1059M553.24,1066.01L560.25,1059M553.24,1070.26L564.5,1059M553.24,1074.51L568.75,1059M553.24,1078.76L573,1059M553.24,1083.01L577.25,1059M553.24,1087.26L581.24,1059.26M553.24,1091.51L581.24,1063.51M553.24,1095.76L581.24,1067.76M553.24,1100.01L581.24,1072.01M553.24,1104.26L581.24,1076.26M553.24,1108.51L581.24,1080.51M553.24,1112.76L581.24,1084.76M553.24,1117.01L581.24,1089.01M553.24,1121.26L581.24,1093.26M553.24,1125.51L581.24,1097.51M553.24,1129.76L581.24,1101.76M553.24,1134.01L581.24,1106.01M553.24,1138.26L581.24,1110.26M553.24,1142.51L581.24,1114.51M553.24,1146.76L581.24,1118.76M553.24,1151.01L581.24,1123.01M553.24,1155.26L581.24,1127.26M553.24,1159.51L581.24,1131.51M553.24,1163.76L581.24,1135.76M553.24,1168.01L581.24,1140.01M553.24,1172.26L581.24,1144.26M555.15,1174.6L581.24,1148.51M559.4,1174.6L581.24,1152.76M563.65,1174.6L581.24,1157.01M567.9,1174.6L581.24,1161.26M572.15,1174.6L581.24,1165.51M576.4,1174.6L581.24,1169.76M580.65,1174.6L581.24,1174.01" stroke="#000" stroke-width="1" fill="none"/>
<rect x="553.24" y="1059" width="28" height="115.6" fill="none" stroke="#000" stroke-width="2"/>
<line x1="567.24" y1="1052.9" x2="567.24" y2="1059" stroke="#000" stroke-width="1.2" stroke-linecap="butt"/>
<line x1="560.14" y1="1052.9" x2="574.34" y2="1052.9" stroke="#000" stroke-width="1.2" stroke-linecap="butt"/>
<g opacity="0.55">
<line x1="567.24" y1="1059" x2="567.24" y2="1061.8" stroke="#000" stroke-width="1.2" stroke-linecap="butt"/>
<line x1="560.14" y1="1061.8" x2="574.34" y2="1061.8" stroke="#000" stroke-width="1.2" stroke-linecap="butt"/>
</g>
<rect x="598.31" y="1137.8" width="28" height="36.8" fill="#92bff9" stroke="none"/>
<path d="M598.31,1139.94L600.45,1137.8M598.31,1144.19L604.7,1137.8M598.31,1148.44L608.95,1137.8M598.31,1152.69L613.2,1137.8M598.31,1156.94L617.45,1137.8M598.31,1161.19L621.7,1137.8M598.31,1165.44L625.95,1137.8M598.31,1169.69L626.31,1141.69M598.31,1173.94L626.31,1145.94M601.9,1174.6L626.31,1150.19M606.15,1174.6L626.31,1154.44M610.4,1174.6L626.31,1158.69M614.65,1174.6L626.31,1162.94M618.9,1174.6L626.31,1167.19M623.15,1174.6L626.31,1171.44" stroke="#000" stroke-width="1" fill="none"/>
<rect x="598.31" y="1137.8" width="28" height="36.8" fill="none" stroke="#000" stroke-width="2"/>
<line x1="612.31" y1="1121.8" x2="612.31" y2="1137.8" stroke="#000" stroke-width="1.2" stroke-linecap="butt"/>
<line x1="605.21" y1="1121.8" x2="619.41" y2="1121.8" stroke="#000" stroke-width="1.2" stroke-linecap="butt"/>
<g opacity="0.55">
<line x1="612.31" y1="1137.8" x2="612.31" y2="1148.7" stroke="#000" stroke-width="1.2" stroke-linecap="butt"/>
<line x1="605.21" y1="1148.7" x2="619.41" y2="1148.7" stroke="#000" stroke-width="1.2" stroke-linecap="butt"/>
</g>
<line x1="447" y1="989.4" x2="447" y2="1175.6" stroke="#000" stroke-width="2" stroke-linecap="butt"/>
<line x1="438.8" y1="1174.6" x2="642.8" y2="1174.6" stroke="#000" stroke-width="2" stroke-linecap="butt"/>
<line x1="438.8" y1="990.4" x2="447" y2="990.4" stroke="#000" stroke-width="2" stroke-linecap="butt"/>
<line x1="438.8" y1="1051.8" x2="447" y2="1051.8" stroke="#000" stroke-width="2" stroke-linecap="butt"/>
<line x1="438.8" y1="1113.2" x2="447" y2="1113.2" stroke="#000" stroke-width="2" stroke-linecap="butt"/>
<text transform="translate(437.4,998.6)" font-family="'Liberation Serif','Times New Roman',Times,serif" font-size="23" font-weight="bold" font-style="normal" text-anchor="end"  stroke="#000" stroke-width="0.3">50</text>
<text transform="translate(437.4,1060)" font-family="'Liberation Serif','Times New Roman',Times,serif" font-size="23" font-weight="bold" font-style="normal" text-anchor="end"  stroke="#000" stroke-width="0.3">40</text>
<text transform="translate(437.4,1121.4)" font-family="'Liberation Serif','Times New Roman',Times,serif" font-size="23" font-weight="bold" font-style="normal" text-anchor="end"  stroke="#000" stroke-width="0.3">30</text>
<text transform="translate(437.4,1182.8)" font-family="'Liberation Serif','Times New Roman',Times,serif" font-size="23" font-weight="bold" font-style="normal" text-anchor="end"  stroke="#000" stroke-width="0.3">20</text>
<text transform="translate(403.5,1077.4) rotate(-90) scale(0.9430,1)" font-family="'Liberation Serif','Times New Roman',Times,serif" font-size="24.4" font-weight="bold" font-style="normal" text-anchor="middle"  stroke="#000" stroke-width="0.3">Percentage <tspan font-size="23" dx="0.6" dy="-1.2">(</tspan><tspan font-style="italic" font-size="26" dx="0.2" dy="1.2">%</tspan><tspan font-size="23" dx="1.0" dy="-1.2">)</tspan></text>
<text transform="translate(425.3,965.8)" font-family="'Liberation Serif','Times New Roman',Times,serif" font-size="22" font-weight="bold" font-style="normal" text-anchor="start"  stroke="#000" stroke-width="0.3">CD8<tspan dy="-7" dx="0.5" font-size="16">+</tspan><tspan dy="7" dx="2.4" letter-spacing="0.7"> T-cell suppression</tspan></text>
<polyline points="465.5,1177.6 465.5,1185.1 630.3,1185.1 630.3,1177.6" fill="none" stroke="#000" stroke-width="2.7" stroke-linejoin="miter"/>
<text transform="translate(555.3,1210.1) scale(1.0650,1)" font-family="'Liberation Serif','Times New Roman',Times,serif" font-size="24.4" font-weight="bold" font-style="normal" text-anchor="middle"  stroke="#000" stroke-width="0.3">+MDSCs</text>
<polyline points="566.8,1041 566.8,1011.4 612.3,1011.4 612.3,1112.3" fill="none" stroke="#000" stroke-width="1.7" stroke-linejoin="miter"/>
<text x="584.85" y="1008.01" font-family="'DejaVu Sans','Liberation Sans',sans-serif" font-size="20.6" stroke="#000" stroke-width="0.6" stroke-linejoin="round">*</text>
</g>
<text transform="translate(4,24.7) scale(0.96,1)" font-family="'Liberation Serif','Times New Roman',Times,serif" font-size="32.2" font-weight="bold" stroke="#000" stroke-width="0.3">A<tspan x="22.4">.</tspan></text>
<text transform="translate(350.8,26) scale(0.96,1)" font-family="'Liberation Serif','Times New Roman',Times,serif" font-size="32.2" font-weight="bold" stroke="#000" stroke-width="0.3">B<tspan x="20.42">.</tspan></text>
<text transform="translate(3,325.3) scale(0.96,1)" font-family="'Liberation Serif','Times New Roman',Times,serif" font-size="32.2" font-weight="bold" stroke="#000" stroke-width="0.3">C<tspan x="21.15">.</tspan></text>
<text transform="translate(354.4,325.4) scale(0.96,1)" font-family="'Liberation Serif','Times New Roman',Times,serif" font-size="32.2" font-weight="bold" stroke="#000" stroke-width="0.3">D<tspan x="21.88">.</tspan></text>
<text transform="translate(4,656.6) scale(0.96,1)" font-family="'Liberation Serif','Times New Roman',Times,serif" font-size="32.2" font-weight="bold" stroke="#000" stroke-width="0.3">E<tspan x="21.04">.</tspan></text>
<text transform="translate(5.4,957.2) scale(0.96,1)" font-family="'Liberation Serif','Times New Roman',Times,serif" font-size="32.2" font-weight="bold" stroke="#000" stroke-width="0.3">F<tspan x="19.58">.</tspan></text>
<rect x="108.6" y="1242" width="26.4" height="16.2" fill="#000"/>
<rect x="338" y="1243" width="24.4" height="14.2" fill="#fff"/>
<rect x="338" y="1243" width="24.4" height="14.2" fill="none" stroke="#000" stroke-width="2"/>
<rect x="480.6" y="1243" width="24.4" height="14.2" fill="#92bff9"/>
<rect x="480.6" y="1243" width="24.4" height="14.2" fill="none" stroke="#000" stroke-width="2"/>
<rect x="109.6" y="1278.3" width="24.4" height="14.2" fill="#fff"/>
<path d="M109.6,1283.6L114.9,1278.3M109.6,1289L120.3,1278.3M111.5,1292.5L125.7,1278.3M116.9,1292.5L131.1,1278.3M122.3,1292.5L134,1280.8M127.7,1292.5L134,1286.2M133.1,1292.5L134,1291.6" stroke="#000" stroke-width="1.6" fill="none"/>
<rect x="109.6" y="1278.3" width="24.4" height="14.2" fill="none" stroke="#000" stroke-width="2"/>
<rect x="338" y="1278.3" width="24.4" height="14.2" fill="#92bff9"/>
<path d="M338,1282L341.7,1278.3M338,1287.4L347.1,1278.3M338.3,1292.5L352.5,1278.3M343.7,1292.5L357.9,1278.3M349.1,1292.5L362.4,1279.2M354.5,1292.5L362.4,1284.6M359.9,1292.5L362.4,1290" stroke="#000" stroke-width="1.6" fill="none"/>
<rect x="338" y="1278.3" width="24.4" height="14.2" fill="none" stroke="#000" stroke-width="2"/>
<text transform="translate(149.6,1256.6)" font-family="'Liberation Serif','Times New Roman',Times,serif" font-size="23.2" font-weight="normal" font-style="normal" text-anchor="start" >CTL (T cells only)</text>
<text transform="translate(377.8,1256.6) scale(0.9500,1)" font-family="'Liberation Serif','Times New Roman',Times,serif" font-size="23.2" font-weight="normal" font-style="normal" text-anchor="start" >Medium</text>
<text transform="translate(520.4,1256.6)" font-family="'Liberation Serif','Times New Roman',Times,serif" font-size="23.2" font-weight="normal" font-style="normal" text-anchor="start" >1MT</text>
<text transform="translate(149.6,1292.2)" font-family="'Liberation Serif','Times New Roman',Times,serif" font-size="23.2" font-weight="normal" font-style="italic" text-anchor="start" >P. <tspan dx="3">brasiliensis</tspan></text>
<text transform="translate(376.4,1292.2)" font-family="'Liberation Serif','Times New Roman',Times,serif" font-size="23.2" font-weight="normal" font-style="normal" text-anchor="start" >1MT + <tspan font-style="italic">P. <tspan dx="3">brasiliensis</tspan></tspan></text>
</svg></body></html>
